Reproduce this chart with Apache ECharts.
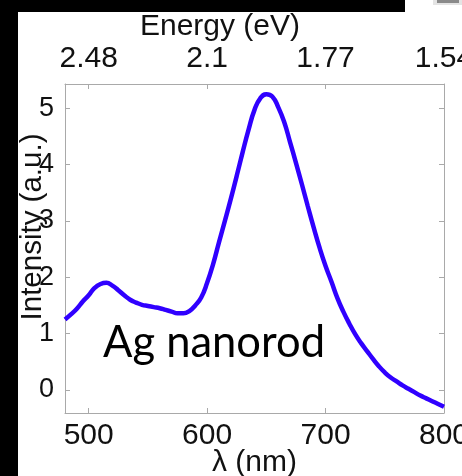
<!DOCTYPE html>
<html>
<head>
<meta charset="utf-8">
<script src="https://cdn.jsdelivr.net/npm/echarts@6/dist/echarts.min.js"></script>
<style>
  html, body { margin: 0; padding: 0; background: #fff; }
  #chart { width: 462px; height: 476px; }
</style>
</head>
<body>
<div id="chart"></div>
<script>
// Extinction spectrum of a silver nanorod
const wavelength = [
  480, 485, 490, 495, 500, 505, 510, 515, 520, 525,
  530, 535, 540, 545, 550, 555, 560, 565, 570, 575,
  580, 585, 590, 595, 600, 605, 610, 615, 620, 625,
  630, 635, 640, 645, 650, 655, 660, 665, 670, 675,
  680, 685, 690, 695, 700, 705, 710, 715, 720, 725,
  730, 735, 740, 745, 750, 755, 760, 765, 770, 775,
  780, 785, 790, 795, 800
];
const intensity = [
  1.25, 1.34, 1.44, 1.57, 1.68, 1.81, 1.88, 1.90, 1.85, 1.77,
  1.68, 1.60, 1.55, 1.51, 1.49, 1.47, 1.45, 1.42, 1.39, 1.36,
  1.36, 1.40, 1.50, 1.64, 1.90, 2.23, 2.62, 3.00, 3.39, 3.80,
  4.22, 4.62, 4.97, 5.18, 5.25, 5.21, 5.02, 4.76, 4.40, 4.03,
  3.65, 3.26, 2.88, 2.52, 2.20, 1.92, 1.63, 1.39, 1.18, 0.99,
  0.83, 0.69, 0.55, 0.42, 0.31, 0.22, 0.15, 0.08, 0.02, -0.04,
  -0.10, -0.15, -0.20, -0.25, -0.30
];

// Axis ticks
const nmTicks = [500, 600, 700, 800];
const energyTickLabels = ['2.48', '2.1', '1.77', '1.54'];
const intensityTicks = [0, 1, 2, 3, 4, 5];

const FONT = 'Liberation Sans';
const AXIS_GRAY = '#a9a9a9';
const TEXT = '#111';

const frameAxis = {
  axisLine: { show: true, onZero: false, lineStyle: { color: AXIS_GRAY, width: 1 } },
  splitLine: { show: false }
};

const chart = echarts.init(document.getElementById('chart'), null, { renderer: 'canvas' });

chart.setOption({
  backgroundColor: '#fff',
  animation: false,
  grid: { left: 65, right: 18, top: 84, bottom: 63, outerBoundsMode: 'none' },
  xAxis: [
    Object.assign({
      type: 'value', position: 'bottom', min: 480, max: 800,
      axisTick: { show: true, inside: true, length: 5, customValues: nmTicks,
                  lineStyle: { color: AXIS_GRAY } },
      axisLabel: { customValues: nmTicks, margin: 8, fontFamily: FONT, fontSize: 30, color: TEXT },
      name: 'λ (nm)', nameLocation: 'middle', nameGap: 35, nameMoveOverlap: false,
      nameTextStyle: { fontFamily: FONT, fontSize: 30, color: TEXT }
    }, frameAxis),
    Object.assign({
      type: 'value', position: 'top', min: 480, max: 800,
      axisTick: { show: true, inside: true, length: 5, customValues: nmTicks,
                  lineStyle: { color: AXIS_GRAY } },
      axisLabel: {
        customValues: nmTicks, margin: 10, fontFamily: FONT, fontSize: 30, color: TEXT,
        formatter: v => energyTickLabels[nmTicks.indexOf(v)]
      }
    }, frameAxis)
  ],
  yAxis: [
    Object.assign({
      type: 'value', position: 'left', min: -0.41, max: 5.43,
      axisTick: { show: true, inside: true, length: 5, customValues: intensityTicks,
                  lineStyle: { color: AXIS_GRAY } },
      axisLabel: { customValues: intensityTicks, margin: 11, fontFamily: FONT, fontSize: 27, color: TEXT }
    }, frameAxis),
    Object.assign({
      type: 'value', position: 'right', min: -0.41, max: 5.43,
      axisTick: { show: true, inside: true, length: 5, customValues: intensityTicks,
                  lineStyle: { color: AXIS_GRAY } },
      axisLabel: { show: false }
    }, frameAxis)
  ],
  series: [{
    type: 'line',
    xAxisIndex: 0,
    yAxisIndex: 0,
    data: wavelength.map((w, i) => [w, intensity[i]]),
    smooth: 0.5,
    showSymbol: false,
    lineStyle: { color: '#3000ff', width: 4.5 }
  }],
  graphic: [
    // dark page edges around the figure
    { type: 'rect', left: 0, top: 0, shape: { width: 18, height: 476 }, style: { fill: '#000' } },
    { type: 'rect', left: 0, top: 0, shape: { width: 405, height: 12 }, style: { fill: '#000' } },
    { type: 'rect', left: 433, top: 0, shape: { width: 29, height: 5 }, style: { fill: '#e4e4e4' } },
    { type: 'rect', left: 437, top: 0, shape: { width: 22, height: 3 }, style: { fill: '#8a8a8a' } },
    {
      type: 'text', x: 220, y: 27,
      style: { text: 'Energy (eV)', fontFamily: FONT, fontSize: 30, fill: TEXT,
               align: 'center', verticalAlign: 'middle' }
    },
    {
      type: 'text', x: 33, y: 227, rotation: Math.PI / 2,
      style: { text: 'Intensity (a.u.)', fontFamily: FONT, fontSize: 29.5, fill: TEXT,
               align: 'center', verticalAlign: 'middle' }
    },
    {
      type: 'text', x: 103, y: 343,
      style: { text: 'Ag nanorod', fontFamily: 'Lato', fontSize: 43.5, fill: '#000',
               align: 'left', verticalAlign: 'middle' }
    }
  ]
});
</script>
</body>
</html>
